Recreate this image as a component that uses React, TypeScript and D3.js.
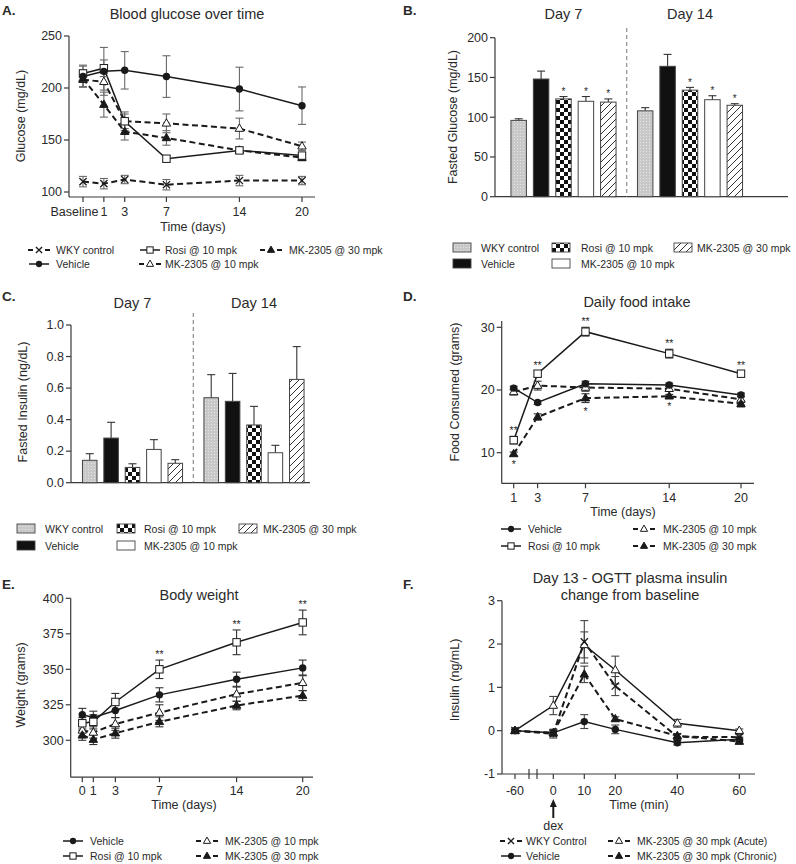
import React, { useRef, useEffect } from 'react';
import * as d3 from 'd3';

// ---------- data ----------
// A. blood glucose over time (baseline drawn at day -1)
const glucoseDays = [-1, 1, 3, 7, 14, 20];
const glucoseDayLabels = ['Baseline', '1', '3', '7', '14', '20'];
const glucoseWky = [110, 108, 112, 107, 111, 111];
const glucoseWkyErr = [5, 5, 4, 5, 5, 4];
const glucoseVehicle = [211, 216, 217, 211, 199, 183];
const glucoseVehicleErr = [10, 23, 18, 20, 21, 18];
const glucoseRosi = [214, 219, 168, 132, 140, 135];
const glucoseRosiErr = [8, 8, 9, 3, 2, 3];
const glucoseMk10 = [208, 206, 168, 166, 161, 144];
const glucoseMk10Err = [7, 8, 7, 9, 10, 4];
const glucoseMk30 = [209, 184, 158, 152, 140, 133];
const glucoseMk30Err = [8, 12, 8, 7, 3, 3];

// B / C. fasted glucose and insulin bars
const barGroups = ['Day 7', 'Day 14'];
const barSeries = ['WKY control', 'Vehicle', 'Rosi @ 10 mpk', 'MK-2305 @ 10 mpk', 'MK-2305 @ 30 mpk'];
const fastedGlucoseDay7 = [96, 148, 123, 120, 119];
const fastedGlucoseDay7Err = [2, 10, 3, 6, 4];
const fastedGlucoseDay14 = [108, 164, 134, 122, 115];
const fastedGlucoseDay14Err = [4, 15, 3.5, 5, 2];
const fastedGlucoseSig = ['', '', '*', '*', '*'];
const fastedInsulinDay7 = [0.142, 0.283, 0.097, 0.211, 0.123];
const fastedInsulinDay7Err = [0.042, 0.1, 0.023, 0.062, 0.023];
const fastedInsulinDay14 = [0.539, 0.516, 0.366, 0.19, 0.655];
const fastedInsulinDay14Err = [0.146, 0.177, 0.118, 0.047, 0.208];

// D. daily food intake
const foodDays = [1, 3, 7, 14, 20];
const foodVehicle = [20.3, 18.0, 21.0, 20.8, 19.2];
const foodVehicleErr = [0.3, 0.3, 0.4, 0.3, 0.3];
const foodRosi = [12.0, 22.6, 29.3, 25.8, 22.6];
const foodRosiErr = [0.6, 0.5, 0.7, 0.7, 0.4];
const foodMk10 = [19.7, 20.7, 20.4, 20.2, 18.5];
const foodMk10Err = [0.5, 0.7, 0.6, 0.4, 0.5];
const foodMk30 = [9.8, 15.7, 18.7, 19.0, 17.8];
const foodMk30Err = [0.3, 0.5, 0.7, 0.3, 0.5];
const foodRosiSig = ['**', '**', '**', '**', '**'];
const foodMk30Sig = ['*', '', '*', '*', ''];

// E. body weight
const weightDays = [0, 1, 3, 7, 14, 20];
const weightVehicle = [318, 316, 321, 332, 343, 351];
const weightVehicleErr = [4.5, 4.5, 5, 5, 5, 5.5];
const weightRosi = [312, 313, 327, 350, 369, 383];
const weightRosiErr = [4, 5, 6, 6.5, 8.7, 8.7];
const weightMk10 = [307, 305.5, 311.5, 319.5, 332.5, 340.5];
const weightMk10Err = [4, 4, 4.5, 5.5, 5, 5.5];
const weightMk30 = [303.5, 300.5, 305, 313, 324.5, 331.5];
const weightMk30Err = [3.5, 3.5, 3.5, 3.5, 3, 3.5];
const weightRosiSig = ['', '', '', '**', '**', '**'];

// F. OGTT insulin change from baseline
const ogttTimes = [-60, 0, 10, 20, 40, 60];
const ogttWky = [0, -0.07, 2.05, 1.03, -0.14, -0.15];
const ogttWkyErr = [0.03, 0.1, 0.49, 0.22, 0.06, 0.06];
const ogttVehicle = [0, -0.05, 0.21, 0.03, -0.28, -0.2];
const ogttVehicleErr = [0.03, 0.08, 0.16, 0.1, 0.05, 0.05];
const ogttAcute = [0, 0.58, 1.98, 1.4, 0.17, 0];
const ogttAcuteErr = [0.03, 0.21, 0.3, 0.32, 0.09, 0.04];
const ogttChronic = [0, -0.05, 1.3, 0.27, -0.12, -0.25];
const ogttChronicErr = [0.03, 0.06, 0.19, 0.05, 0.05, 0.06];

// ---------- drawing helpers ----------
const FONT = '"Liberation Sans", Arial, sans-serif';
const INK = '#1a1a1a';
const AXIS = '#3a3a3a';
const TXT = '#2a2a2a';

type Marker = 'x' | 'circle' | 'square' | 'tri' | 'triFill';
type Sel = d3.Selection<any, any, any, any>;

function text(g: Sel, x: number, y: number, s: string, size = 12, anchor = 'start', weight = 'normal', rotate = 0) {
  const t = g.append('text')
    .attr('x', x).attr('y', y)
    .attr('font-family', FONT).attr('font-size', size)
    .attr('font-weight', weight)
    .attr('text-anchor', anchor).attr('fill', TXT)
    .text(s);
  if (rotate) t.attr('transform', `rotate(${rotate},${x},${y})`);
  return t;
}

function marker(g: Sel, m: Marker, cx: number, cy: number, k = 1) {
  if (m === 'circle') {
    g.append('circle').attr('cx', cx).attr('cy', cy).attr('r', 3.7 * k).attr('fill', INK);
  } else if (m === 'square') {
    const h = 3.7 * k;
    g.append('rect').attr('x', cx - h).attr('y', cy - h).attr('width', 2 * h).attr('height', 2 * h)
      .attr('fill', '#fff').attr('stroke', INK).attr('stroke-width', 1);
  } else if (m === 'tri' || m === 'triFill') {
    const r = 4.6 * k;
    g.append('path')
      .attr('d', `M${cx},${cy - r}L${cx + r * 0.92},${cy + r * 0.6}L${cx - r * 0.92},${cy + r * 0.6}Z`)
      .attr('fill', m === 'tri' ? '#fff' : INK).attr('stroke', INK).attr('stroke-width', 1);
  } else {
    const r = 3.6 * k;
    g.append('path')
      .attr('d', `M${cx - r},${cy - r}L${cx + r},${cy + r}M${cx - r},${cy + r}L${cx + r},${cy - r}`)
      .attr('stroke', INK).attr('stroke-width', 1.3);
  }
}

function yAxis(g: Sel, y: d3.ScaleLinear<number, number>, x0: number, ticks: number[], fmt: (d: number) => string, ext: [number, number]) {
  g.append('line').attr('x1', x0).attr('x2', x0).attr('y1', y(ext[0])).attr('y2', y(ext[1]))
    .attr('stroke', AXIS).attr('stroke-width', 1.2);
  ticks.forEach(t => {
    g.append('line').attr('x1', x0 - 5).attr('x2', x0).attr('y1', y(t)).attr('y2', y(t))
      .attr('stroke', AXIS).attr('stroke-width', 1.2);
    text(g, x0 - 7, y(t) + 4.3, fmt(t), 12.5, 'end');
  });
}

function xAxis(g: Sel, x: d3.ScaleLinear<number, number>, y0: number, ticks: number[], labels: string[], ext: [number, number], labelDy = 19, firstShift = 0) {
  g.append('line').attr('x1', ext[0]).attr('x2', ext[1]).attr('y1', y0).attr('y2', y0)
    .attr('stroke', AXIS).attr('stroke-width', 1.2);
  ticks.forEach((t, i) => {
    g.append('line').attr('x1', x(t)).attr('x2', x(t)).attr('y1', y0).attr('y2', y0 + 5)
      .attr('stroke', AXIS).attr('stroke-width', 1.2);
    text(g, x(t) + (i === 0 ? firstShift : 0), y0 + labelDy, labels[i], 12.5, 'middle');
  });
}

interface LineSeries { xs: number[]; ys: number[]; errs: number[]; marker: Marker; dashed: boolean; }

function drawSeries(g: Sel, x: d3.ScaleLinear<number, number>, y: d3.ScaleLinear<number, number>, series: LineSeries[], errColor: string) {
  series.forEach(s => {
    const line = d3.line<number>().x((d, i) => x(s.xs[i])).y(d => y(d));
    g.append('path').attr('d', line(s.ys) as string).attr('fill', 'none')
      .attr('stroke', INK).attr('stroke-width', s.dashed ? 2 : 1.5)
      .attr('stroke-dasharray', s.dashed ? '6,3.5' : null);
  });
  series.forEach(s => {
    s.ys.forEach((v, i) => {
      const cx = x(s.xs[i]);
      const e = s.errs[i];
      const eb = g.append('g').attr('stroke', errColor).attr('stroke-width', 1.1);
      eb.append('line').attr('x1', cx).attr('x2', cx).attr('y1', y(v - e)).attr('y2', y(v + e));
      eb.append('line').attr('x1', cx - 4).attr('x2', cx + 4).attr('y1', y(v - e)).attr('y2', y(v - e));
      eb.append('line').attr('x1', cx - 4).attr('x2', cx + 4).attr('y1', y(v + e)).attr('y2', y(v + e));
    });
  });
  series.forEach(s => {
    s.ys.forEach((v, i) => marker(g, s.marker, x(s.xs[i]), y(v)));
  });
}

function legendLine(g: Sel, cx: number, cy: number, m: Marker, dashed: boolean, label: string, tx: number) {
  if (dashed) {
    [[cx - 11, cx - 6], [cx + 6, cx + 11]].forEach(([a, b]) =>
      g.append('line').attr('x1', a).attr('x2', b).attr('y1', cy).attr('y2', cy).attr('stroke', INK).attr('stroke-width', 2));
  } else {
    g.append('line').attr('x1', cx - 10).attr('x2', cx + 10).attr('y1', cy).attr('y2', cy).attr('stroke', INK).attr('stroke-width', 1.5);
  }
  marker(g, m, cx, cy, 0.85);
  text(g, tx, cy + 3.8, label, 10.5);
}

const barFills = ['url(#pDots)', '#111', 'url(#pChecker)', '#fff', 'url(#pHatch)'];

function legendBar(g: Sel, x: number, cy: number, i: number, tx: number) {
  g.append('rect').attr('x', x).attr('y', cy - 5).attr('width', 18).attr('height', 9)
    .attr('fill', barFills[i]).attr('stroke', '#444').attr('stroke-width', 0.9);
  text(g, tx, cy + 3.8, barSeries[i], 10.5);
}

function barPanel(g: Sel, y: d3.ScaleLinear<number, number>, groupRange: [number, number], inner: [number, number],
  vals: number[][], errs: number[][], sig: string[] | null) {
  const outer = d3.scaleBand<string>().domain(barGroups).range(groupRange).padding(0);
  const band = d3.scaleBand<string>().domain(barSeries).range([0, outer.bandwidth()])
    .paddingInner(inner[0]).paddingOuter(inner[1]);
  barGroups.forEach((grp, gi) => {
    barSeries.forEach((s, si) => {
      const x0 = (outer(grp) as number) + (band(s) as number);
      const w = band.bandwidth();
      const v = vals[gi][si];
      const e = errs[gi][si];
      const cx = x0 + w / 2;
      g.append('line').attr('x1', cx).attr('x2', cx).attr('y1', y(v)).attr('y2', y(v + e))
        .attr('stroke', '#333').attr('stroke-width', 1.1);
      g.append('line').attr('x1', cx - 4).attr('x2', cx + 4).attr('y1', y(v + e)).attr('y2', y(v + e))
        .attr('stroke', '#333').attr('stroke-width', 1.1);
      g.append('rect').attr('x', x0).attr('y', y(v)).attr('width', w).attr('height', y(0) - y(v))
        .attr('fill', barFills[si]).attr('stroke', '#444').attr('stroke-width', 1);
      if (sig && sig[si]) text(g, cx, y(v + e) - 1.5, sig[si], 10, 'middle');
    });
  });
  return outer;
}

function sigMarks(g: Sel, x: d3.ScaleLinear<number, number>, y: d3.ScaleLinear<number, number>, xs: number[], ys: number[], es: number[], marks: string[], above: boolean) {
  marks.forEach((m, i) => {
    if (!m) return;
    const yy = above ? y(ys[i] + es[i]) - 2 : y(ys[i] - es[i]) + 12;
    text(g, x(xs[i]), yy, m, 10.5, 'middle');
  });
}

// ---------- panels ----------
function panelA(svg: Sel) {
  const g = svg.append('g');
  text(g, 2, 15, 'A.', 13.5, 'start', 'bold');
  text(g, 187, 19, 'Blood glucose over time', 14.5, 'middle');
  const x = d3.scaleLinear().domain([-1, 20]).range([83, 302]);
  const y = d3.scaleLinear().domain([100, 250]).range([192, 36]);
  yAxis(g, y, 69, [100, 150, 200, 250], d => String(d), [95.2, 250]);
  xAxis(g, x, 197, glucoseDays, glucoseDayLabels, [69, 315], 19, -8.5);
  text(g, 193, 231, 'Time (days)', 12.5, 'middle');
  text(g, 25, 116, 'Glucose (mg/dL)', 12.5, 'middle', 'normal', -90);
  drawSeries(g, x, y, [
    { xs: glucoseDays, ys: glucoseWky, errs: glucoseWkyErr, marker: 'x', dashed: true },
    { xs: glucoseDays, ys: glucoseMk10, errs: glucoseMk10Err, marker: 'tri', dashed: true },
    { xs: glucoseDays, ys: glucoseMk30, errs: glucoseMk30Err, marker: 'triFill', dashed: true },
    { xs: glucoseDays, ys: glucoseRosi, errs: glucoseRosiErr, marker: 'square', dashed: false },
    { xs: glucoseDays, ys: glucoseVehicle, errs: glucoseVehicleErr, marker: 'circle', dashed: false },
  ], '#6a6a6a');
  legendLine(g, 39, 250, 'x', true, 'WKY control', 56);
  legendLine(g, 39, 264, 'circle', false, 'Vehicle', 56);
  legendLine(g, 150, 250, 'square', false, 'Rosi @ 10 mpk', 165);
  legendLine(g, 150, 264, 'tri', true, 'MK-2305 @ 10 mpk', 165);
  legendLine(g, 271, 250, 'triFill', true, 'MK-2305 @ 30 mpk', 289);
}

function panelB(svg: Sel) {
  const g = svg.append('g');
  text(g, 403, 15, 'B.', 13.5, 'start', 'bold');
  const y = d3.scaleLinear().domain([0, 200]).range([196.7, 37.7]);
  yAxis(g, y, 495, [0, 50, 100, 150, 200], d => String(d), [0, 200]);
  g.append('line').attr('x1', 495).attr('x2', 788).attr('y1', y(0)).attr('y2', y(0)).attr('stroke', AXIS).attr('stroke-width', 1.2);
  const outer = barPanel(g, y, [500.25, 753.25], [0.31, 0.478],
    [fastedGlucoseDay7, fastedGlucoseDay14], [fastedGlucoseDay7Err, fastedGlucoseDay14Err], fastedGlucoseSig);
  const div = outer('Day 14') as number;
  g.append('line').attr('x1', div).attr('x2', div).attr('y1', 28).attr('y2', y(0))
    .attr('stroke', '#777').attr('stroke-width', 1).attr('stroke-dasharray', '4,3');
  barGroups.forEach(grp => text(g, (outer(grp) as number) + outer.bandwidth() / 2, 19, grp, 14.5, 'middle'));
  text(g, 457, 117, 'Fasted Glucose (mg/dL)', 12.5, 'middle', 'normal', -90);
  legendBar(g, 453, 248, 0, 481);
  legendBar(g, 453, 264, 1, 481);
  legendBar(g, 552, 248, 2, 581);
  legendBar(g, 552, 264, 3, 581);
  legendBar(g, 674, 248, 4, 697);
}

function panelC(svg: Sel) {
  const g = svg.append('g');
  text(g, 2, 301, 'C.', 13.5, 'start', 'bold');
  const y = d3.scaleLinear().domain([0, 1]).range([482.7, 325]);
  yAxis(g, y, 71, [0, 0.2, 0.4, 0.6, 0.8, 1.0], d3.format('.1f'), [0, 1]);
  g.append('line').attr('x1', 71).attr('x2', 310).attr('y1', y(0)).attr('y2', y(0)).attr('stroke', AXIS).attr('stroke-width', 1.2);
  const outer = barPanel(g, y, [71.75, 314.75], [0.32, 0.5],
    [fastedInsulinDay7, fastedInsulinDay14], [fastedInsulinDay7Err, fastedInsulinDay14Err], null);
  const div = outer('Day 14') as number;
  g.append('line').attr('x1', div).attr('x2', div).attr('y1', 313).attr('y2', y(0))
    .attr('stroke', '#777').attr('stroke-width', 1).attr('stroke-dasharray', '4,3');
  barGroups.forEach(grp => text(g, (outer(grp) as number) + outer.bandwidth() / 2, 308, grp, 14.5, 'middle'));
  text(g, 27, 402, 'Fasted Insulin (ng/dL)', 12.5, 'middle', 'normal', -90);
  legendBar(g, 17, 529, 0, 45);
  legendBar(g, 17, 546, 1, 45);
  legendBar(g, 117, 529, 2, 144);
  legendBar(g, 117, 546, 3, 144);
  legendBar(g, 239, 529, 4, 263);
}

function panelD(svg: Sel) {
  const g = svg.append('g');
  text(g, 403, 301, 'D.', 13.5, 'start', 'bold');
  text(g, 637, 307, 'Daily food intake', 14.5, 'middle');
  const x = d3.scaleLinear().domain([1, 20]).range([513.7, 741]);
  const y = d3.scaleLinear().domain([10, 30]).range([452.7, 327.3]);
  yAxis(g, y, 501.7, [10, 20, 30], d => String(d), [5.1, 31]);
  xAxis(g, x, 483.3, foodDays, foodDays.map(String), [501.7, 754], 19);
  text(g, 623, 516, 'Time (days)', 12.5, 'middle');
  text(g, 459, 392, 'Food Consumed (grams)', 12.5, 'middle', 'normal', -90);
  drawSeries(g, x, y, [
    { xs: foodDays, ys: foodMk10, errs: foodMk10Err, marker: 'tri', dashed: true },
    { xs: foodDays, ys: foodMk30, errs: foodMk30Err, marker: 'triFill', dashed: true },
    { xs: foodDays, ys: foodVehicle, errs: foodVehicleErr, marker: 'circle', dashed: false },
    { xs: foodDays, ys: foodRosi, errs: foodRosiErr, marker: 'square', dashed: false },
  ], '#333');
  sigMarks(g, x, y, foodDays, foodRosi, foodRosiErr, foodRosiSig, true);
  sigMarks(g, x, y, foodDays, foodMk30, foodMk30Err, foodMk30Sig, false);
  legendLine(g, 511, 529, 'circle', false, 'Vehicle', 528);
  legendLine(g, 511, 546, 'square', false, 'Rosi @ 10 mpk', 528);
  legendLine(g, 644, 529, 'tri', true, 'MK-2305 @ 10 mpk', 663);
  legendLine(g, 644, 546, 'triFill', true, 'MK-2305 @ 30 mpk', 663);
}

function panelE(svg: Sel) {
  const g = svg.append('g');
  text(g, 2, 589, 'E.', 13.5, 'start', 'bold');
  text(g, 199, 600, 'Body weight', 14.5, 'middle');
  const x = d3.scaleLinear().domain([0, 20]).range([82.3, 302.7]);
  const y = d3.scaleLinear().domain([300, 400]).range([740.3, 598.3]);
  yAxis(g, y, 70.7, [300, 325, 350, 375, 400], d => String(d), [274, 400]);
  xAxis(g, x, y(274), weightDays, weightDays.map(String), [70.7, 313], 18);
  text(g, 184, 809, 'Time (days)', 12.5, 'middle');
  text(g, 25, 685, 'Weight (grams)', 12.5, 'middle', 'normal', -90);
  drawSeries(g, x, y, [
    { xs: weightDays, ys: weightMk10, errs: weightMk10Err, marker: 'tri', dashed: true },
    { xs: weightDays, ys: weightMk30, errs: weightMk30Err, marker: 'triFill', dashed: true },
    { xs: weightDays, ys: weightVehicle, errs: weightVehicleErr, marker: 'circle', dashed: false },
    { xs: weightDays, ys: weightRosi, errs: weightRosiErr, marker: 'square', dashed: false },
  ], '#333');
  sigMarks(g, x, y, weightDays, weightRosi, weightRosiErr, weightRosiSig, true);
  legendLine(g, 73, 841, 'circle', false, 'Vehicle', 90);
  legendLine(g, 73, 856, 'square', false, 'Rosi @ 10 mpk', 90);
  legendLine(g, 207, 841, 'tri', true, 'MK-2305 @ 10 mpk', 225);
  legendLine(g, 207, 856, 'triFill', true, 'MK-2305 @ 30 mpk', 225);
}

function panelF(svg: Sel) {
  const g = svg.append('g');
  text(g, 403, 589, 'F.', 13.5, 'start', 'bold');
  text(g, 630, 583, 'Day 13 - OGTT plasma insulin', 14.5, 'middle');
  text(g, 630, 600, 'change from baseline', 14.5, 'middle');
  // broken axis: -60 sits just left of the break
  const x = d3.scaleLinear().domain([-60, 0, 60]).range([515, 553.3, 739.3]);
  const y = d3.scaleLinear().domain([-1, 3]).range([774, 600.7]);
  yAxis(g, y, 502, [-1, 0, 1, 2, 3], d => String(d), [-1, 3]);
  xAxis(g, x, 774, ogttTimes, ogttTimes.map(String), [502, 755], 21);
  [529, 537].forEach(bx => g.append('line').attr('x1', bx).attr('x2', bx).attr('y1', 769).attr('y2', 779)
    .attr('stroke', AXIS).attr('stroke-width', 1.2));
  text(g, 639, 809, 'Time (min)', 12.5, 'middle');
  text(g, 459, 680, 'Insulin (ng/mL)', 12.5, 'middle', 'normal', -90);
  // dex arrow
  const ax = x(0);
  g.append('line').attr('x1', ax).attr('x2', ax).attr('y1', 818).attr('y2', 806).attr('stroke', INK).attr('stroke-width', 2);
  g.append('path').attr('d', `M${ax - 3.5},${807}L${ax},${799}L${ax + 3.5},${807}Z`).attr('fill', INK);
  text(g, ax, 830, 'dex', 12.5, 'middle');
  drawSeries(g, x, y, [
    { xs: ogttTimes, ys: ogttAcute, errs: ogttAcuteErr, marker: 'tri', dashed: false },
    { xs: ogttTimes, ys: ogttVehicle, errs: ogttVehicleErr, marker: 'circle', dashed: false },
    { xs: ogttTimes, ys: ogttWky, errs: ogttWkyErr, marker: 'x', dashed: true },
    { xs: ogttTimes, ys: ogttChronic, errs: ogttChronicErr, marker: 'triFill', dashed: true },
  ], '#444');
  legendLine(g, 511, 841, 'x', true, 'WKY Control', 526);
  legendLine(g, 511, 856, 'circle', false, 'Vehicle', 526);
  legendLine(g, 619, 841, 'tri', true, 'MK-2305 @ 30 mpk (Acute)', 637);
  legendLine(g, 619, 856, 'triFill', true, 'MK-2305 @ 30 mpk (Chronic)', 637);
}

export default function App() {
  const ref = useRef<SVGSVGElement>(null);

  useEffect(() => {
    const svg = d3.select(ref.current) as Sel;
    svg.selectAll('*').remove();

    const defs = svg.append('defs');
    const dots = defs.append('pattern').attr('id', 'pDots').attr('patternUnits', 'userSpaceOnUse').attr('width', 3).attr('height', 3);
    dots.append('rect').attr('width', 3).attr('height', 3).attr('fill', '#c8c8c8');
    dots.append('rect').attr('x', 1).attr('y', 1).attr('width', 1).attr('height', 1).attr('fill', '#e4e4e4');
    const checker = defs.append('pattern').attr('id', 'pChecker').attr('patternUnits', 'userSpaceOnUse').attr('width', 8).attr('height', 8);
    checker.append('rect').attr('width', 8).attr('height', 8).attr('fill', '#fff');
    checker.append('rect').attr('width', 4).attr('height', 4).attr('fill', '#111');
    checker.append('rect').attr('x', 4).attr('y', 4).attr('width', 4).attr('height', 4).attr('fill', '#111');
    const hatch = defs.append('pattern').attr('id', 'pHatch').attr('patternUnits', 'userSpaceOnUse').attr('width', 7).attr('height', 7);
    hatch.append('rect').attr('width', 7).attr('height', 7).attr('fill', '#fff');
    hatch.append('path').attr('d', 'M0,7L7,0M-1,1L1,-1M6,8L8,6').attr('stroke', '#333').attr('stroke-width', 1);

    panelA(svg);
    panelB(svg);
    panelC(svg);
    panelD(svg);
    panelE(svg);
    panelF(svg);
  }, []);

  return (
    <svg ref={ref} width={796} height={864}
      style={{ position: 'absolute', left: 0, top: 0, background: '#fff' }} />
  );
}
